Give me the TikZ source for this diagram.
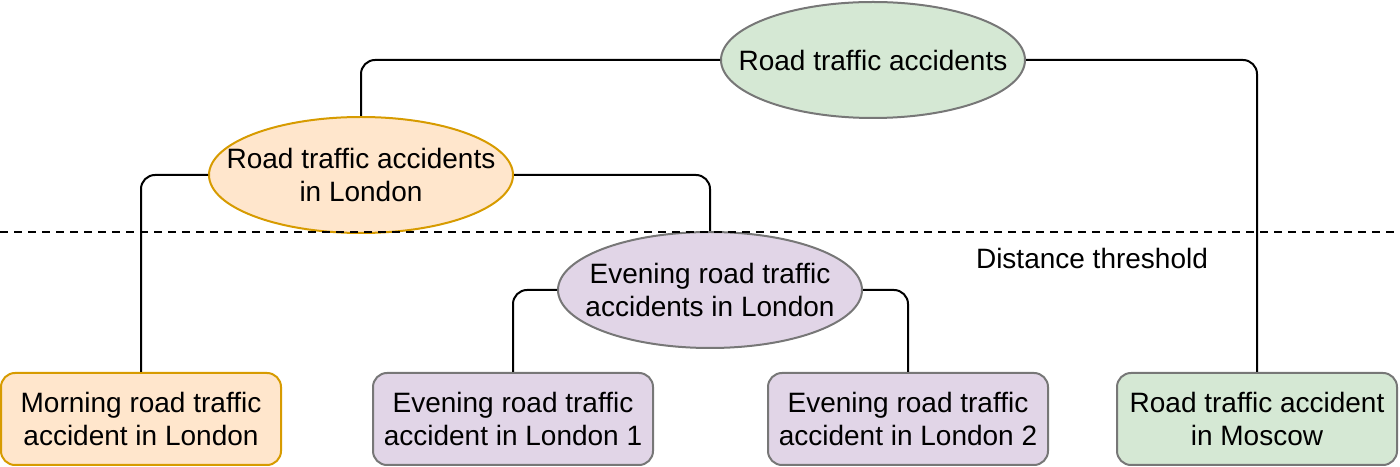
\documentclass[tikz,border=0pt]{standalone}
\usepackage{fontspec}
\setmainfont{Liberation Sans}
\usepackage{xcolor}
\usetikzlibrary{positioning,shapes.geometric,calc}
\definecolor{orangefill}{HTML}{FFE6CC}
\definecolor{orangeline}{HTML}{D79B00}
\definecolor{purplefill}{HTML}{E1D5E7}
\definecolor{greenfill}{HTML}{D5E8D4}
\definecolor{grayline}{HTML}{777777}

\begin{document}
\begin{tikzpicture}[line join=bevel,
    font=\fontsize{14bp}{16.5bp}\selectfont,
    cluster/.style={ellipse,draw,align=center,minimum width=152bp,minimum height=58bp,
      inner xsep=-20bp,inner ysep=0pt},
    leaf/.style={rectangle,draw,rounded corners=7bp,align=center,minimum width=140bp,
      minimum height=46bp,inner sep=0pt},
    link/.style={rounded corners=7bp}]
    \pgfsetlinewidth{1bp}
  \useasboundingbox (0bp,0bp) rectangle (700bp,233.5bp);
  %%
    % Node: all_accidents
    \node[cluster,fill=greenfill,draw=grayline] (all_acc) at (436.5bp,203.5bp) {Road traffic accidents};
    % Node: london
    \node[cluster,fill=orangefill,draw=orangeline] (london_acc) at (180.5bp,146bp) {Road traffic accidents\\in London};
    % Node: evening_london
    \node[cluster,fill=purplefill,draw=grayline] (evening_acc) at (355bp,88.5bp) {Evening road traffic\\accidents in London};
    % Node: morning
    \node[leaf,fill=orangefill,draw=orangeline] (morning_1) at (70.5bp,24bp) {Morning road traffic\\accident in London};
    % Node: evening 1
    \node[leaf,fill=purplefill,draw=grayline] (evening_1) at (256.5bp,24bp) {Evening road traffic\\accident in London 1};
    % Node: evening 2
    \node[leaf,fill=purplefill,draw=grayline] (evening_2) at (454bp,24bp) {Evening road traffic\\accident in London 2};
    % Node: moscow
    \node[leaf,fill=greenfill,draw=grayline] (moscow_1) at (628.5bp,24bp) {Road traffic accident\\in Moscow};
  %%
    % Edge: all_acc -> london_acc
    \draw[link] (all_acc.west) -| (london_acc.north);
    % Edge: all_acc -> moscow_1
    \draw[link] (all_acc.east) -| (moscow_1.north);
    % Edge: london_acc -> morning_1
    \draw[link] (london_acc.west) -| (morning_1.north);
    % Edge: london_acc -> evening_acc
    \draw[link] (london_acc.east) -| (evening_acc.north);
    % Edge: evening_acc -> evening_1
    \draw[link] (evening_acc.west) -| (evening_1.north);
    % Edge: evening_acc -> evening_2
    \draw[link] (evening_acc.east) -| (evening_2.north);
  %%
    % Threshold
    \coordinate (cut_left) at (0bp,117.5bp);
    \coordinate (cut_right) at (700bp,117.5bp);
    \draw[dash pattern=on 4bp off 3bp] (cut_left) -- (cut_right);
    \node (cut_label) at (546bp,104.5bp) {Distance threshold};
  %
  \end{tikzpicture}
\end{document}
